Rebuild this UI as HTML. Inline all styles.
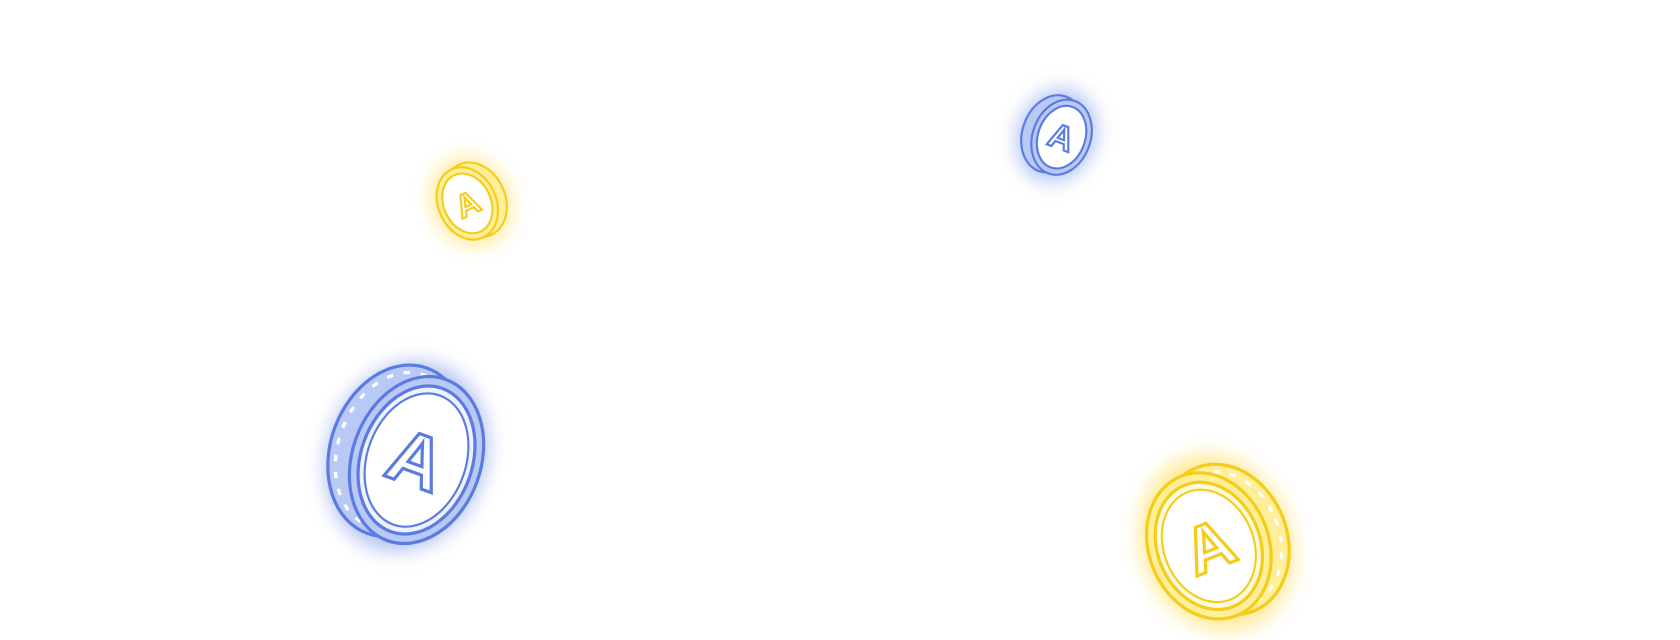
<!DOCTYPE html>
<html><head><meta charset="utf-8"><style>
html,body{margin:0;padding:0;background:#fff;width:1680px;height:640px;overflow:hidden}
svg{display:block}
text{font-family:"Liberation Sans",sans-serif;font-weight:bold}
</style></head><body>
<svg width="1680" height="640" viewBox="0 0 1680 640" xmlns="http://www.w3.org/2000/svg">
<defs>
<filter id="glow" x="-50%" y="-50%" width="200%" height="200%"><feGaussianBlur stdDeviation="9"/></filter>
</defs>
<g transform="scale(1.0714)">
<!-- big blue coin -->
<g transform="translate(385,428) rotate(20)">
  <ellipse cx="-6" cy="0" rx="74" ry="90" fill="#8fa8ee" opacity="0.7" filter="url(#glow)"/>
  <ellipse cx="-16" cy="-2" rx="62" ry="82" fill="#b9c9f5" stroke="#5b7be0" stroke-width="3"/>
  <ellipse cx="-16" cy="-2" rx="55" ry="75" fill="none" stroke="#fff" stroke-width="3" stroke-dasharray="6 10"/>
  <ellipse cx="4" cy="0" rx="60" ry="80" fill="#b9c9f5" stroke="#5b7be0" stroke-width="3"/>
  <ellipse cx="4" cy="0" rx="52" ry="71" fill="#eef2ff" stroke="#5b7be0" stroke-width="3"/>
  <ellipse cx="4" cy="0" rx="46" ry="64" fill="#fff" stroke="#5b7be0" stroke-width="2"/>
  <text x="4" y="24" font-size="70" text-anchor="middle" fill="#fff" stroke="#5b7be0" stroke-width="3">A</text>
</g>

<!-- small blue coin -->
<g transform="translate(988,127) rotate(20)">
  <ellipse cx="-2" cy="0" rx="36" ry="44" fill="#8fa8ee" opacity="0.7" filter="url(#glow)"/>
  <ellipse cx="-6" cy="0" rx="28" ry="37" fill="#b9c9f5" stroke="#5b7be0" stroke-width="2"/>
  <ellipse cx="3" cy="0" rx="27" ry="36" fill="#b9c9f5" stroke="#5b7be0" stroke-width="2"/>
  <ellipse cx="3" cy="0" rx="22" ry="30" fill="#fff" stroke="#5b7be0" stroke-width="2"/>
  <text x="3" y="11" font-size="32" text-anchor="middle" fill="#fff" stroke="#5b7be0" stroke-width="2">A</text>
</g>

<!-- big yellow coin -->
<g transform="translate(1132,508) rotate(-22)">
  <ellipse cx="4" cy="0" rx="70" ry="84" fill="#ffe16a" opacity="0.7" filter="url(#glow)"/>
  <ellipse cx="12" cy="0" rx="58" ry="72" fill="#ffef9a" stroke="#f5cc1a" stroke-width="3"/>
  <ellipse cx="12" cy="0" rx="51" ry="65" fill="none" stroke="#fff" stroke-width="3" stroke-dasharray="6 10"/>
  <ellipse cx="-4" cy="0" rx="56" ry="70" fill="#ffef9a" stroke="#f5cc1a" stroke-width="3"/>
  <ellipse cx="-4" cy="0" rx="48" ry="61" fill="#fffbe0" stroke="#f5cc1a" stroke-width="3"/>
  <ellipse cx="-4" cy="0" rx="42" ry="54" fill="#fff" stroke="#f5cc1a" stroke-width="2"/>
  <text x="-4" y="22" font-size="62" text-anchor="middle" fill="#fff" stroke="#f5cc1a" stroke-width="3">A</text>
</g>

<!-- small yellow coin -->
<g transform="translate(438,189) rotate(-25)">
  <ellipse cx="2" cy="0" rx="36" ry="42" fill="#ffe16a" opacity="0.7" filter="url(#glow)"/>
  <ellipse cx="6" cy="0" rx="28" ry="36" fill="#ffef9a" stroke="#f5cc1a" stroke-width="2"/>
  <ellipse cx="-2" cy="0" rx="27" ry="35" fill="#ffef9a" stroke="#f5cc1a" stroke-width="2"/>
  <ellipse cx="-2" cy="0" rx="22" ry="29" fill="#fff" stroke="#f5cc1a" stroke-width="2"/>
  <text x="-2" y="11" font-size="30" text-anchor="middle" fill="#fff" stroke="#f5cc1a" stroke-width="2">A</text>
</g>
</g>
</svg>
</body></html>
